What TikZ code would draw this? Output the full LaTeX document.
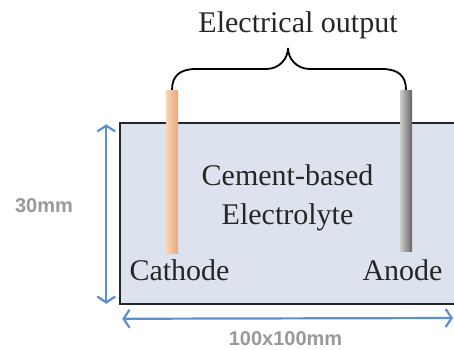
\documentclass[tikz,border=0pt]{standalone}
\usepackage{fontspec}
\setmainfont{Liberation Serif}
\newfontfamily\dimfont{Liberation Sans}
\usepackage{tikz}
\usetikzlibrary{arrows.meta,positioning,calc}
\definecolor{cellfill}{HTML}{DCE3EE}
\definecolor{dimblue}{HTML}{5B8FCF}
\definecolor{copperL}{HTML}{F8D6B6}
\definecolor{copperR}{HTML}{E9A77A}

\begin{document}
\begin{tikzpicture}[
  x=1pt, y=-1pt,
  cellbox/.style={draw=black!85, line width=1.5pt, fill=cellfill, minimum width=340pt, minimum height=181pt, inner sep=0pt},
  rod/.style={minimum width=12pt, inner sep=0pt},
  txt/.style={font=\fontsize{30}{39}\selectfont, text=black!85, inner sep=0pt},
  dim/.style={{Straight Barb[length=6pt,width=18pt]}-{Straight Barb[length=6pt,width=18pt]}, line width=2.2pt, draw=dimblue},
  dimtext/.style={font=\dimfont\bfseries\fontsize{20}{22}\selectfont, text=black!40, inner sep=0pt}
]
\useasboundingbox (0,0) rectangle (454,349);
\node[cellbox] (cell) at (290,213.5) {};
\node[rod, minimum height=163pt, left color=copperL, right color=copperR] (cathode) at (172,171.5) {};
\node[rod, minimum height=161pt, left color=black!20, right color=black!60] (anode) at (406,170.5) {};
% brace between the electrodes
\coordinate (tip) at (288,48);
\draw[line width=1.8pt] (cathode.north) .. controls +(0,-14) and +(-16,0) .. (196,69) -- (266,69)
  .. controls +(14,0) and +(0,10) .. (tip) .. controls +(0,10) and +(-14,0) .. (310,69) -- (382,69)
  .. controls +(16,0) and +(0,-14) .. (anode.north);
\node[txt, anchor=base] (title) at (298,32) {Electrical output};
\node[txt, align=center] (electrolyte) at (287.5,198) {Cement-based\\Electrolyte};
\node[txt, anchor=base] (cathodelbl) at (179.5,280) {Cathode};
\node[txt, anchor=base] (anodelbl) at (402.5,280) {Anode};
% dimensions
\coordinate (vtop) at ($(cell.north west)+(-13,2)$);
\coordinate (vbot) at ($(cell.south west)+(-13,-1)$);
\draw[dim] (vtop) -- (vbot);
\node[dimtext, anchor=base] (height) at (44,212) {30mm};
\coordinate (hleft) at ($(cell.south west)+(3,14)$);
\coordinate (hright) at (453,318);
\draw[dim] (hleft) -- (hright);
\node[dimtext, anchor=base] (width) at (285.5,345) {100x100mm};
\end{tikzpicture}
\end{document}
